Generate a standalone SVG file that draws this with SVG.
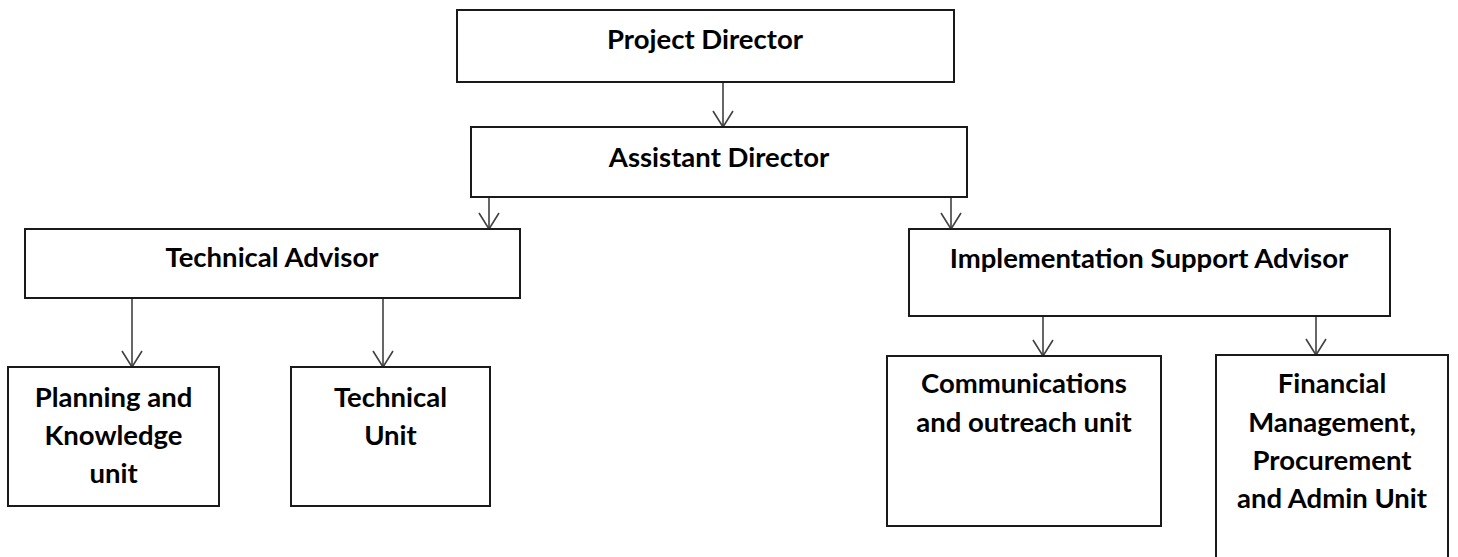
<svg xmlns="http://www.w3.org/2000/svg" width="1458" height="557" viewBox="0 0 1458 557">
<style>
.box{fill:#fff;stroke:#1a1a1a;stroke-width:2}
.lbl{font-family:Lato,"Liberation Sans",sans-serif;font-weight:bold;font-size:27.5px;fill:#000;text-anchor:middle}
.conn{stroke:#404040;stroke-width:1.6;fill:none}
</style>
<defs>
<marker id="arr" markerUnits="userSpaceOnUse" markerWidth="19" markerHeight="24" viewBox="-18 -12 19 24" refX="0" refY="0" orient="auto">
<path d="M-16,-10 L0,0 L-16,10" fill="none" stroke="#404040" stroke-width="1.6"/>
</marker>
</defs>
<rect width="1458" height="557" fill="#fff"/>
<g id="connectors">
<line class="conn" x1="723" y1="82" x2="723" y2="127" marker-end="url(#arr)"/>
<line class="conn" x1="489" y1="197" x2="489" y2="229" marker-end="url(#arr)"/>
<line class="conn" x1="951" y1="197" x2="951" y2="229" marker-end="url(#arr)"/>
<line class="conn" x1="132" y1="298" x2="132" y2="367" marker-end="url(#arr)"/>
<line class="conn" x1="383" y1="298" x2="383" y2="367" marker-end="url(#arr)"/>
<line class="conn" x1="1043" y1="316" x2="1043" y2="356" marker-end="url(#arr)"/>
<line class="conn" x1="1316" y1="316" x2="1316" y2="355" marker-end="url(#arr)"/>
</g>
<g id="project-director">
<rect class="box" x="457" y="10" width="497" height="72"/>
<text class="lbl" x="705" y="49">Project Director</text>
</g>
<g id="assistant-director">
<rect class="box" x="471" y="127" width="496" height="70"/>
<text class="lbl" x="719" y="167">Assistant Director</text>
</g>
<g id="technical-advisor">
<rect class="box" x="25" y="229" width="495" height="69"/>
<text class="lbl" x="272" y="267">Technical Advisor</text>
</g>
<g id="implementation-support-advisor">
<rect class="box" x="909" y="229" width="481" height="87"/>
<text class="lbl" x="1149" y="268">Implementation Support Advisor</text>
</g>
<g id="planning-knowledge">
<rect class="box" x="8" y="367" width="211" height="139"/>
<text class="lbl" x="113.5" y="407">Planning and</text>
<text class="lbl" x="113.5" y="445">Knowledge</text>
<text class="lbl" x="113.5" y="483">unit</text>
</g>
<g id="technical-unit">
<rect class="box" x="291" y="367" width="199" height="139"/>
<text class="lbl" x="390.5" y="407">Technical</text>
<text class="lbl" x="390.5" y="445">Unit</text>
</g>
<g id="communications">
<rect class="box" x="887" y="356" width="274" height="170"/>
<text class="lbl" x="1024" y="393">Communications</text>
<text class="lbl" x="1024" y="432">and outreach unit</text>
</g>
<g id="financial">
<rect class="box" x="1216" y="355" width="232" height="220"/>
<text class="lbl" x="1332" y="393">Financial</text>
<text class="lbl" x="1332" y="432">Management,</text>
<text class="lbl" x="1332" y="470">Procurement</text>
<text class="lbl" x="1332" y="508">and Admin Unit</text>
</g>
</svg>
